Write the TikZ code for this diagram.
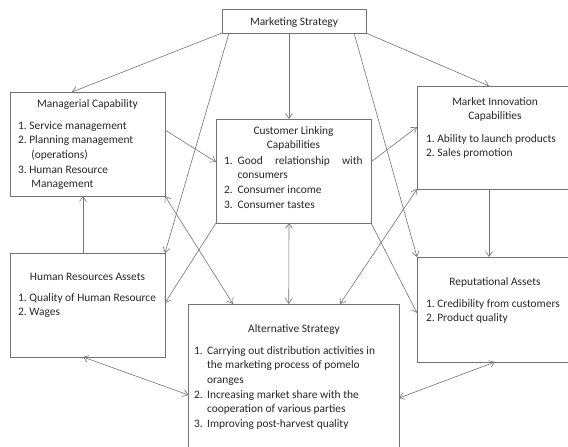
\documentclass[tikz,border=0pt]{standalone}
\usepackage{fontspec}
\setmainfont{Carlito}
\usetikzlibrary{arrows.meta}
\newcommand\boxfont{\fontsize{11.4}{14.7}\selectfont}
\begin{document}
\begin{tikzpicture}[x=1pt,y={(0pt,-1pt)},
  box/.style={draw=black!55, line width=0.75pt, inner sep=0pt, outer sep=0pt},
  conn/.style={draw=black!55, line width=0.6pt},
  arr/.style={conn, -{Straight Barb[length=5pt,width=7pt]}},
  darr/.style={conn, {Straight Barb[length=5pt,width=7pt]}-{Straight Barb[length=5pt,width=7pt]}},
  txt/.style={inner sep=0pt, outer sep=0pt, font=\boxfont, text=black!85}]
\useasboundingbox (0,0) rectangle (568,447);
% boxes
\node[box, minimum width=144pt, minimum height=24pt] (ms) at (294,21) {};
\node[box, minimum width=155pt, minimum height=104pt] (mc) at (87.5,144) {};
\node[box, minimum width=155pt, minimum height=104pt] (cl) at (293.5,171) {};
\node[box, minimum width=156pt, minimum height=103pt] (mi) at (495,137.5) {};
\node[box, minimum width=155pt, minimum height=104pt] (hr) at (87.5,305) {};
\node[box, minimum width=210.5pt, minimum height=156pt] (as) at (293.75,382) {};
\node[box, minimum width=156pt, minimum height=105pt] (ra) at (495,309.5) {};
% texts
\node[txt, anchor=base] (mst) at (294,25) {Marketing Strategy};
\node[txt, anchor=base] (mct) at (87.5,107) {Managerial Capability};
\node[txt, anchor=base west] (mcl) at (18,129) {\begin{tabular}[t]{@{}l@{\hspace{2.7pt}}l@{}}1.&Service management\\2.&Planning management\\&\hspace{2pt}(operations)\\3.&Human Resource\\&\hspace{2pt}Management\end{tabular}};
\node[txt, anchor=base] (clt) at (293.5,134) {\begin{tabular}[t]{@{}c@{}}Customer Linking\\Capabilities\end{tabular}};
\node[txt, anchor=base west] (cll) at (224,164) {\begin{tabular}[t]{@{}l@{\hspace{5pt}}l@{}}1.&\makebox[125pt][s]{Good relationship with}\\&consumers\\2.&Consumer income\\3.&Consumer tastes\end{tabular}};
\node[txt, anchor=base] (mit) at (495,105) {\begin{tabular}[t]{@{}c@{}}Market Innovation\\Capabilities\end{tabular}};
\node[txt, anchor=base west] (mil) at (426,142) {\begin{tabular}[t]{@{}l@{\hspace{2.7pt}}l@{}}1.&Ability to launch products\\2.&Sales promotion\end{tabular}};
\node[txt, anchor=base] (hrt) at (87.5,280) {Human Resources Assets};
\node[txt, anchor=base west] (hrl) at (18,301) {\begin{tabular}[t]{@{}l@{\hspace{2.7pt}}l@{}}1.&Quality of Human Resource\\2.&Wages\end{tabular}};
\node[txt, anchor=base] (rat) at (495,285) {Reputational Assets};
\node[txt, anchor=base west] (ral) at (426,307) {\begin{tabular}[t]{@{}l@{\hspace{2.7pt}}l@{}}1.&Credibility from customers\\2.&Product quality\end{tabular}};
\node[txt, anchor=base] (ast) at (294,332) {Alternative Strategy};
\node[txt, anchor=base west] (asl) at (194,354) {\begin{tabular}[t]{@{}l@{\hspace{4.5pt}}l@{}}1.&Carrying out distribution activities in\\&the marketing process of pomelo\\&oranges\\2.&Increasing market share with the\\&cooperation of various parties\\3.&Improving post-harvest quality\end{tabular}};
% connectors
\draw[arr] (ms.south west) -- ([xshift=62pt]mc.north west);
\draw[arr] ([xshift=7pt]ms.south west) -- (hr.north east);
\draw[arr] ([xshift=67pt]ms.south west) -- ([xshift=73pt]cl.north west);
\draw[arr] ([xshift=132pt]ms.south west) -- (ra.north west);
\draw[arr] (ms.south east) -- ([xshift=72pt]mi.north west);
\draw[arr] ([yshift=-38pt]mc.north east) -- ([yshift=-43pt]cl.north west);
\draw[arr] ([yshift=-43pt]cl.north east) -- ([yshift=-41pt]mi.north west);
\draw[arr] ([xshift=72pt]mi.south west) -- ([xshift=72pt]ra.north west);
\draw[arr] ([xshift=73pt]hr.north west) -- ([xshift=73pt]mc.south west);
\draw[darr] (mc.south east) -- ([xshift=44.5pt]as.north west);
\draw[arr] (cl.south west) -- ([yshift=-50pt]hr.north east);
\draw[darr] ([xshift=73pt]cl.south west) -- ([xshift=100.25pt]as.north west);
\draw[darr] ([xshift=151.5pt]as.north west) -- (mi.south west);
\draw[arr] (cl.south east) -- ([yshift=-56pt]ra.north west);
\draw[darr] ([xshift=73pt]hr.south west) -- ([yshift=-91pt]as.north west);
\draw[darr] ([xshift=78pt]ra.south west) -- ([yshift=-94pt]as.north east);
\end{tikzpicture}
\end{document}
